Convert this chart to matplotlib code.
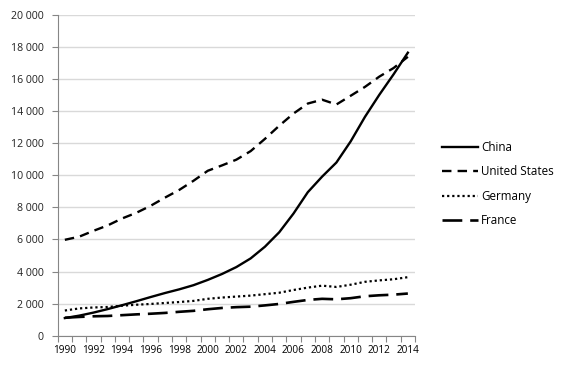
import matplotlib
matplotlib.use('Agg')
import matplotlib.pyplot as plt
from matplotlib.ticker import FuncFormatter, MultipleLocator

plt.rcParams['font.family'] = ['Open Sans', 'DejaVu Sans']

years = list(range(1990, 2015))
china = [1100, 1250, 1440, 1660, 1900, 2150, 2410, 2660, 2890, 3150, 3480, 3850, 4280,
         4820, 5550, 6450, 7620, 8950, 9920, 10800, 12120, 13650, 15020, 16300, 17650]
usa = [5980, 6174, 6539, 6879, 7309, 7664, 8100, 8609, 9089, 9661, 10285, 10622, 10978,
       11511, 12275, 13094, 13856, 14478, 14719, 14419, 14964, 15518, 16155, 16692, 17393]
germany = [1570, 1700, 1760, 1790, 1870, 1930, 1980, 2040, 2100, 2170, 2300, 2380, 2440,
           2500, 2590, 2680, 2850, 3000, 3120, 3040, 3180, 3360, 3450, 3520, 3650]
france = [1120, 1170, 1210, 1230, 1280, 1330, 1370, 1420, 1490, 1550, 1650, 1730, 1780,
          1810, 1890, 1980, 2110, 2230, 2300, 2270, 2340, 2460, 2520, 2560, 2630]

fig = plt.figure(figsize=(5.67, 3.70), dpi=100)
ax = fig.add_axes([57.7 / 567, 34.3 / 370, 357.3 / 567, 320.7 / 370])

ax.plot(years, china, color='black', lw=1.7, label='China')
ax.plot(years, usa, color='black', lw=1.7, ls=(0, (4, 2.6)), label='United States')
ax.plot(years, germany, color='black', lw=1.6, ls=(0, (1, 1.3)), label='Germany')
ax.plot(years, france, color='black', lw=1.9, ls=(0, (7.5, 3)), label='France')

ax.set_xlim(1989.5, 2014.5)
ax.set_ylim(0, 20000)

# y axis: gridlines every 2000, space as thousands separator
ax.yaxis.set_major_locator(MultipleLocator(2000))
ax.yaxis.set_major_formatter(FuncFormatter(lambda v, p: f'{int(v):,}'.replace(',', ' ')))
ax.grid(axis='y', color='#d9d9d9', lw=1)
ax.set_axisbelow(True)

# x axis: ticks between categories, labels on every other year
ax.set_xticks([y - 0.5 for y in years] + [2014.5])
ax.set_xticklabels([])
ax.set_xticks(years[::2], minor=True)
ax.set_xticklabels([str(y) for y in years[::2]], minor=True)
ax.tick_params(axis='x', which='major', length=4, color='#868686')
ax.tick_params(axis='x', which='minor', length=0, pad=7, labelsize=7.2)
ax.tick_params(axis='y', length=4, color='#868686', pad=6, labelsize=7.6)
ax.tick_params(labelcolor='#222222')

for s in ['top', 'right']:
    ax.spines[s].set_visible(False)
for s in ['left', 'bottom']:
    ax.spines[s].set_color('#868686')

ax.legend(loc='center left', bbox_to_anchor=(1.0756, 0.473), frameon=False,
          fontsize=8.4, handlelength=3.1, handletextpad=0.25, labelspacing=0.96,
          borderaxespad=0, borderpad=0)

fig.savefig('out.png', dpi=100)
